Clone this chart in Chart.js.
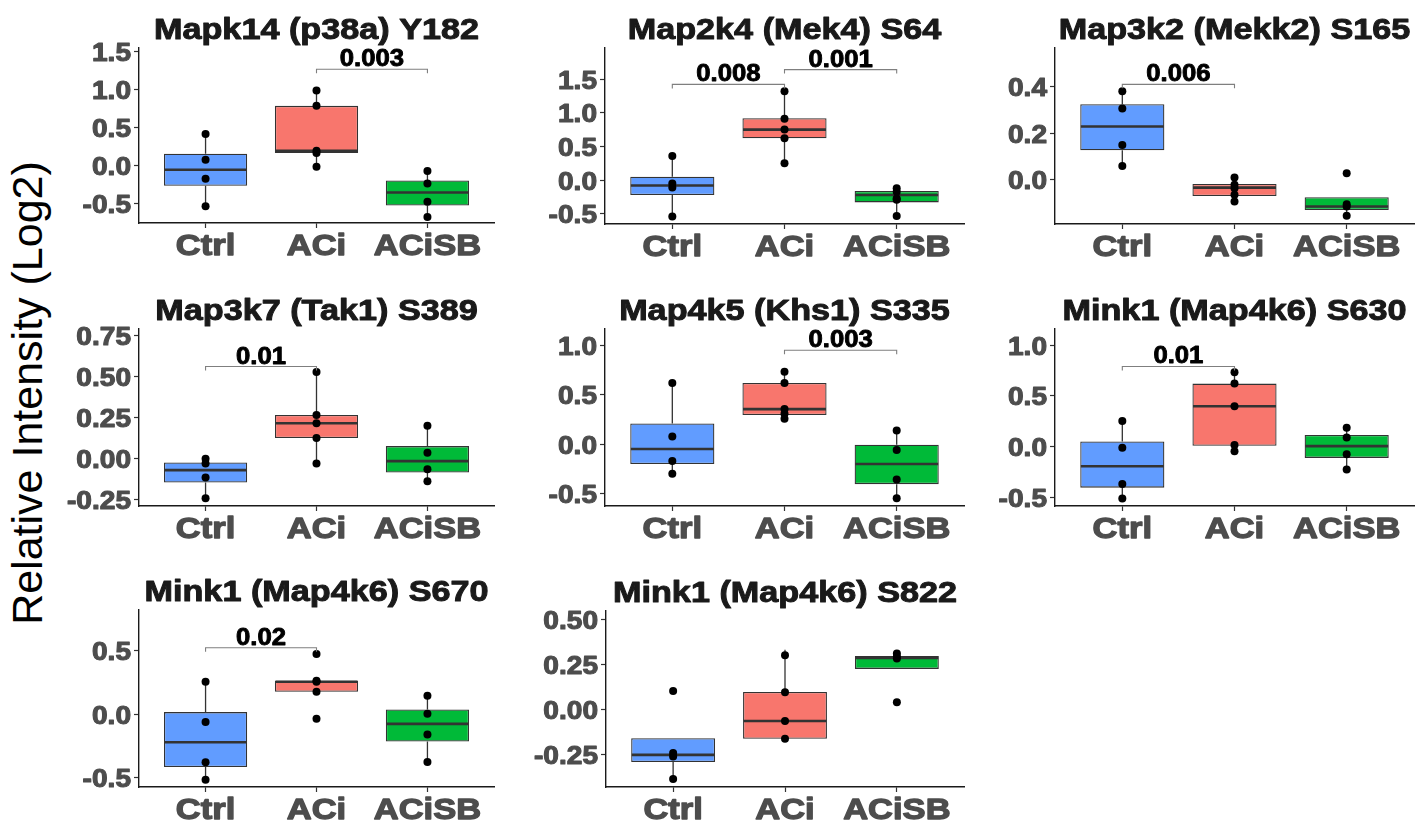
<!DOCTYPE html>
<html>
<head>
<meta charset="utf-8">
<script src="https://cdn.jsdelivr.net/npm/chart.js"></script>
<style>
  body { margin: 0; background: #fff; }
  #page { position: relative; width: 1418px; height: 823px; overflow: hidden; background: #fff; }
  .panel { position: absolute; }
  #ylab {
    position: absolute; left: -272px; top: 368px; width: 600px; height: 50px;
    line-height: 50px; text-align: center; color: #000;
    font: 43px 'Liberation Sans', Arial, sans-serif;
    transform: rotate(-90deg); white-space: nowrap;
  }
</style>
</head>
<body>
<div id="page">
  <div id="ylab">Relative Intensity (Log2)</div>
</div>
<script>

//------------------------------------------------------------------
// data

const groups = ['Ctrl', 'ACi', 'ACiSB'];

const titles = [
    'Mapk14 (p38a) Y182', 'Map2k4 (Mek4) S64', 'Map3k2 (Mekk2) S165',
    'Map3k7 (Tak1) S389', 'Map4k5 (Khs1) S335', 'Mink1 (Map4k6) S630',
    'Mink1 (Map4k6) S670', 'Mink1 (Map4k6) S822'
];

const yTicks = [
    [-0.5, 0, 0.5, 1, 1.5],
    [-0.5, 0, 0.5, 1, 1.5],
    [0, 0.2, 0.4],
    [-0.25, 0, 0.25, 0.5, 0.75],
    [-0.5, 0, 0.5, 1],
    [-0.5, 0, 0.5, 1],
    [-0.5, 0, 0.5],
    [-0.25, 0, 0.25, 0.5]
];

const yTickLabels = [
    ['-0.5', '0.0', '0.5', '1.0', '1.5'],
    ['-0.5', '0.0', '0.5', '1.0', '1.5'],
    ['0.0', '0.2', '0.4'],
    ['-0.25', '0.00', '0.25', '0.50', '0.75'],
    ['-0.5', '0.0', '0.5', '1.0'],
    ['-0.5', '0.0', '0.5', '1.0'],
    ['-0.5', '0.0', '0.5'],
    ['-0.25', '0.00', '0.25', '0.50']
];

const yMin = [-0.76, -0.65, -0.189, -0.287, -0.627, -0.585, -0.574, -0.431];
const yMax = [1.54, 1.96, 0.566, 0.789, 1.17, 1.159, 0.82, 0.545];

const whiskerLow = [
    [-0.54, -0.02, -0.68],
    [-0.54, 0.25, -0.53],
    [0.06, -0.093, -0.154],
    [-0.24, -0.028, -0.136],
    [-0.30, 0.258, -0.548],
    [-0.51, -0.045, -0.226],
    [-0.516, 0.176, -0.377],
    [-0.387, -0.164, 0.224]
];
const boxQ1 = [
    [-0.27, 0.16, -0.53],
    [-0.22, 0.62, -0.33],
    [0.127, -0.069, -0.129],
    [-0.144, 0.126, -0.083],
    [-0.2, 0.296, -0.405],
    [-0.404, 0.008, -0.111],
    [-0.416, 0.176, -0.216],
    [-0.293, -0.164, 0.224]
];
const boxMedian = [
    [-0.06, 0.19, -0.36],
    [-0.08, 0.75, -0.22],
    [0.229, -0.033, -0.114],
    [-0.069, 0.216, -0.014],
    [-0.048, 0.357, -0.2],
    [-0.193, 0.398, 0.005],
    [-0.221, 0.255, -0.077],
    [-0.253, -0.065, 0.285]
];
const boxQ3 = [
    [0.15, 0.78, -0.2],
    [0.05, 0.92, -0.16],
    [0.325, -0.017, -0.074],
    [-0.022, 0.266, 0.077],
    [0.21, 0.622, -0.004],
    [0.051, 0.621, 0.114],
    [0.016, 0.263, 0.037],
    [-0.16, 0.096, 0.296]
];
const whiskerHigh = [
    [0.41, 0.98, -0.075],
    [0.36, 1.32, -0.12],
    [0.38, 0.011, -0.074],
    [0.0, 0.527, 0.201],
    [0.622, 0.735, 0.139],
    [0.252, 0.734, 0.186],
    [0.255, 0.263, 0.145],
    [-0.16, 0.33, 0.296]
];

const points = [
    [[0.41, 0.07, -0.18, -0.54], [0.98, 0.78, 0.19, 0.16, -0.02], [-0.075, -0.24, -0.48, -0.68]],
    [[0.36, -0.05, -0.11, -0.54], [1.32, 0.91, 0.75, 0.62, 0.25], [-0.12, -0.17, -0.27, -0.29, -0.53]],
    [[0.38, 0.307, 0.15, 0.06], [0.011, -0.021, -0.036, -0.064, -0.093], [0.029, -0.104, -0.114, -0.154]],
    [[0.0, -0.028, -0.113, -0.24], [0.527, 0.266, 0.216, 0.126, -0.028], [0.201, 0.037, -0.063, -0.136]],
    [[0.622, 0.078, -0.17, -0.30], [0.735, 0.622, 0.357, 0.309, 0.258], [0.139, -0.058, -0.357, -0.548]],
    [[0.252, -0.012, -0.368, -0.51], [0.734, 0.621, 0.398, 0.015, -0.045], [0.186, 0.091, -0.074, -0.226]],
    [[0.255, -0.063, -0.379, -0.516], [0.474, 0.263, 0.255, 0.176, -0.037], [0.145, 0.002, -0.16, -0.377]],
    [[0.101, -0.243, -0.262, -0.387], [0.30, 0.094, -0.065, -0.164], [0.31, 0.291, 0.282, 0.039]]
];

// [from group, to group, y value, p label]
const brackets = [
    [[2, 3, 1.26, '0.003']],
    [[1, 2, 1.42, '0.008'], [2, 3, 1.64, '0.001']],
    [[1, 2, 0.41, '0.006']],
    [[1, 2, 0.561, '0.01']],
    [[2, 3, 0.955, '0.003']],
    [[1, 2, 0.79, '0.01']],
    [[1, 2, 0.523, '0.02']],
    []
];

//------------------------------------------------------------------
// layout: plot area of each panel on the page [left, top, right, bottom]

const panelArea = [
    [139, 48, 497, 223], [605, 48, 967, 224], [1055, 48, 1417, 224],
    [139, 329, 497, 506], [605, 329, 967, 506], [1055, 329, 1417, 506],
    [139, 610, 497, 787], [606, 611, 967, 787]
];

const fills = ['#619CFF', '#F8766D', '#00BA38'];

const PAD_L = 90, PAD_T = 52, PAD_B = 42, PAD_R = 1;
const FONT = "'Liberation Sans', Arial, sans-serif";

function stretchText(ctx, str, x, y, sx, align, heavy){
    ctx.save();
    ctx.translate(x, y);
    ctx.scale(sx, 1);
    ctx.textAlign = align;
    ctx.textBaseline = 'alphabetic';
    ctx.fillText(str, 0, 0);
    if (heavy) {
        ctx.strokeStyle = ctx.fillStyle;
        ctx.lineWidth = heavy;
        ctx.lineJoin = 'round';
        ctx.strokeText(str, 0, 0);
    }
    ctx.restore();
}

const boxParts = {
    id: 'boxParts',

    beforeDatasetsDraw(chart, args, opts){
        const p = opts.panel, ctx = chart.ctx;
        const xs = chart.scales.x, ys = chart.scales.y;
        ctx.save();
        ctx.strokeStyle = '#333333';
        ctx.lineWidth = 1.3;
        for (let i = 0; i < groups.length; i++) {
            const x = xs.getPixelForValue(i + 1);
            ctx.beginPath();
            ctx.moveTo(x, ys.getPixelForValue(whiskerLow[p][i]));
            ctx.lineTo(x, ys.getPixelForValue(boxQ1[p][i]));
            ctx.moveTo(x, ys.getPixelForValue(boxQ3[p][i]));
            ctx.lineTo(x, ys.getPixelForValue(whiskerHigh[p][i]));
            ctx.stroke();
        }
        ctx.restore();
    },

    afterDatasetDraw(chart, args, opts){
        if (args.index !== 0) return;
        const p = opts.panel, ctx = chart.ctx;
        const ys = chart.scales.y;
        const meta = chart.getDatasetMeta(0);
        ctx.save();
        ctx.strokeStyle = '#333333';
        ctx.lineWidth = 2.6;
        meta.data.forEach((bar, i) => {
            const half = bar.width / 2 - 0.6;
            const y = ys.getPixelForValue(boxMedian[p][i]);
            ctx.beginPath();
            ctx.moveTo(bar.x - half, y);
            ctx.lineTo(bar.x + half, y);
            ctx.stroke();
        });
        ctx.restore();
    },

    afterDraw(chart, args, opts){
        const p = opts.panel, ctx = chart.ctx;
        const xs = chart.scales.x, ys = chart.scales.y;
        const area = chart.chartArea;

        ctx.save();

        // y tick labels
        ctx.fillStyle = '#4D4D4D';
        ctx.font = 'bold 26px ' + FONT;
        yTicks[p].forEach((v, i) => {
            stretchText(ctx, yTickLabels[p][i], area.left - 8, ys.getPixelForValue(v) + 9.5, 1.08, 'right', 1.1);
        });

        // x tick labels
        ctx.font = 'bold 30px ' + FONT;
        groups.forEach((g, i) => {
            stretchText(ctx, g, xs.getPixelForValue(i + 1), area.bottom + 32, 1.15, 'center', 1.3);
        });

        // title
        ctx.fillStyle = '#1A1A1A';
        ctx.font = 'bold 30px ' + FONT;
        stretchText(ctx, titles[p], (area.left + area.right) / 2, area.top - 9, 1.14, 'center', 1.0);

        // significance brackets
        brackets[p].forEach(br => {
            const x1 = xs.getPixelForValue(br[0]);
            const x2 = xs.getPixelForValue(br[1]);
            const y = ys.getPixelForValue(br[2]);
            ctx.strokeStyle = '#7F7F7F';
            ctx.lineWidth = 1.1;
            ctx.beginPath();
            ctx.moveTo(x1, y + 4);
            ctx.lineTo(x1, y);
            ctx.lineTo(x2, y);
            ctx.lineTo(x2, y + 4);
            ctx.stroke();
            ctx.fillStyle = '#000000';
            ctx.font = 'bold 24px ' + FONT;
            stretchText(ctx, br[3], (x1 + x2) / 2, y - 3, 1.07, 'center', 0.9);
        });

        ctx.restore();
    }
};

const page = document.getElementById('page');

panelArea.forEach((a, p) => {

    const [l, t, r, b] = a;

    const wrap = document.createElement('div');
    wrap.className = 'panel';
    wrap.style.left = (l - PAD_L) + 'px';
    wrap.style.top = (t - PAD_T) + 'px';
    const cv = document.createElement('canvas');
    cv.width = r - l + PAD_L + PAD_R;
    cv.height = b - t + PAD_T + PAD_B;
    wrap.appendChild(cv);
    page.appendChild(wrap);

    var scatter_data = [];
    points[p].forEach((vals, i) => {
        vals.forEach(v => scatter_data.push({x: i + 1, y: v}));
    });

    new Chart(cv, {
        type: 'bar',
        data: {
            datasets: [{
                type: 'bar',
                data: groups.map((g, i) => ({x: i + 1, y: [boxQ1[p][i], boxQ3[p][i]]})),
                backgroundColor: fills,
                borderColor: '#333333',
                borderWidth: 1.3,
                borderSkipped: false,
                barPercentage: 0.75,
                categoryPercentage: 1,
                order: 2
            }, {
                type: 'scatter',
                data: scatter_data,
                backgroundColor: '#000000',
                borderColor: '#000000',
                borderWidth: 0,
                pointRadius: 4,
                order: 1
            }]
        },
        options: {
            responsive: false,
            animation: false,
            devicePixelRatio: 1,
            events: [],
            layout: { padding: { left: 0, top: PAD_T, right: PAD_R, bottom: 0 } },
            plugins: {
                legend: { display: false },
                tooltip: { enabled: false },
                boxParts: { panel: p }
            },
            scales: {
                x: {
                    type: 'linear',
                    min: 0.4,
                    max: 3.6,
                    offset: false,
                    afterBuildTicks: s => { s.ticks = groups.map((g, i) => ({value: i + 1})); },
                    afterFit: s => { s.height = PAD_B; s.paddingLeft = 0; s.paddingRight = 0; },
                    ticks: { display: false },
                    grid: { display: true, offset: false, drawOnChartArea: false, drawTicks: true,
                            tickLength: 5, tickColor: '#333333', tickWidth: 1.2 },
                    border: { display: true, color: '#1A1A1A', width: 1.4 }
                },
                y: {
                    type: 'linear',
                    min: yMin[p],
                    max: yMax[p],
                    afterBuildTicks: s => { s.ticks = yTicks[p].map(v => ({value: v})); },
                    afterFit: s => { s.width = PAD_L; s.paddingTop = 0; s.paddingBottom = 0; },
                    ticks: { display: false },
                    grid: { display: true, drawOnChartArea: false, drawTicks: true,
                            tickLength: 5, tickColor: '#333333', tickWidth: 1.2 },
                    border: { display: true, color: '#1A1A1A', width: 1.4 }
                }
            }
        },
        plugins: [boxParts]
    });
});

</script>
</body>
</html>
